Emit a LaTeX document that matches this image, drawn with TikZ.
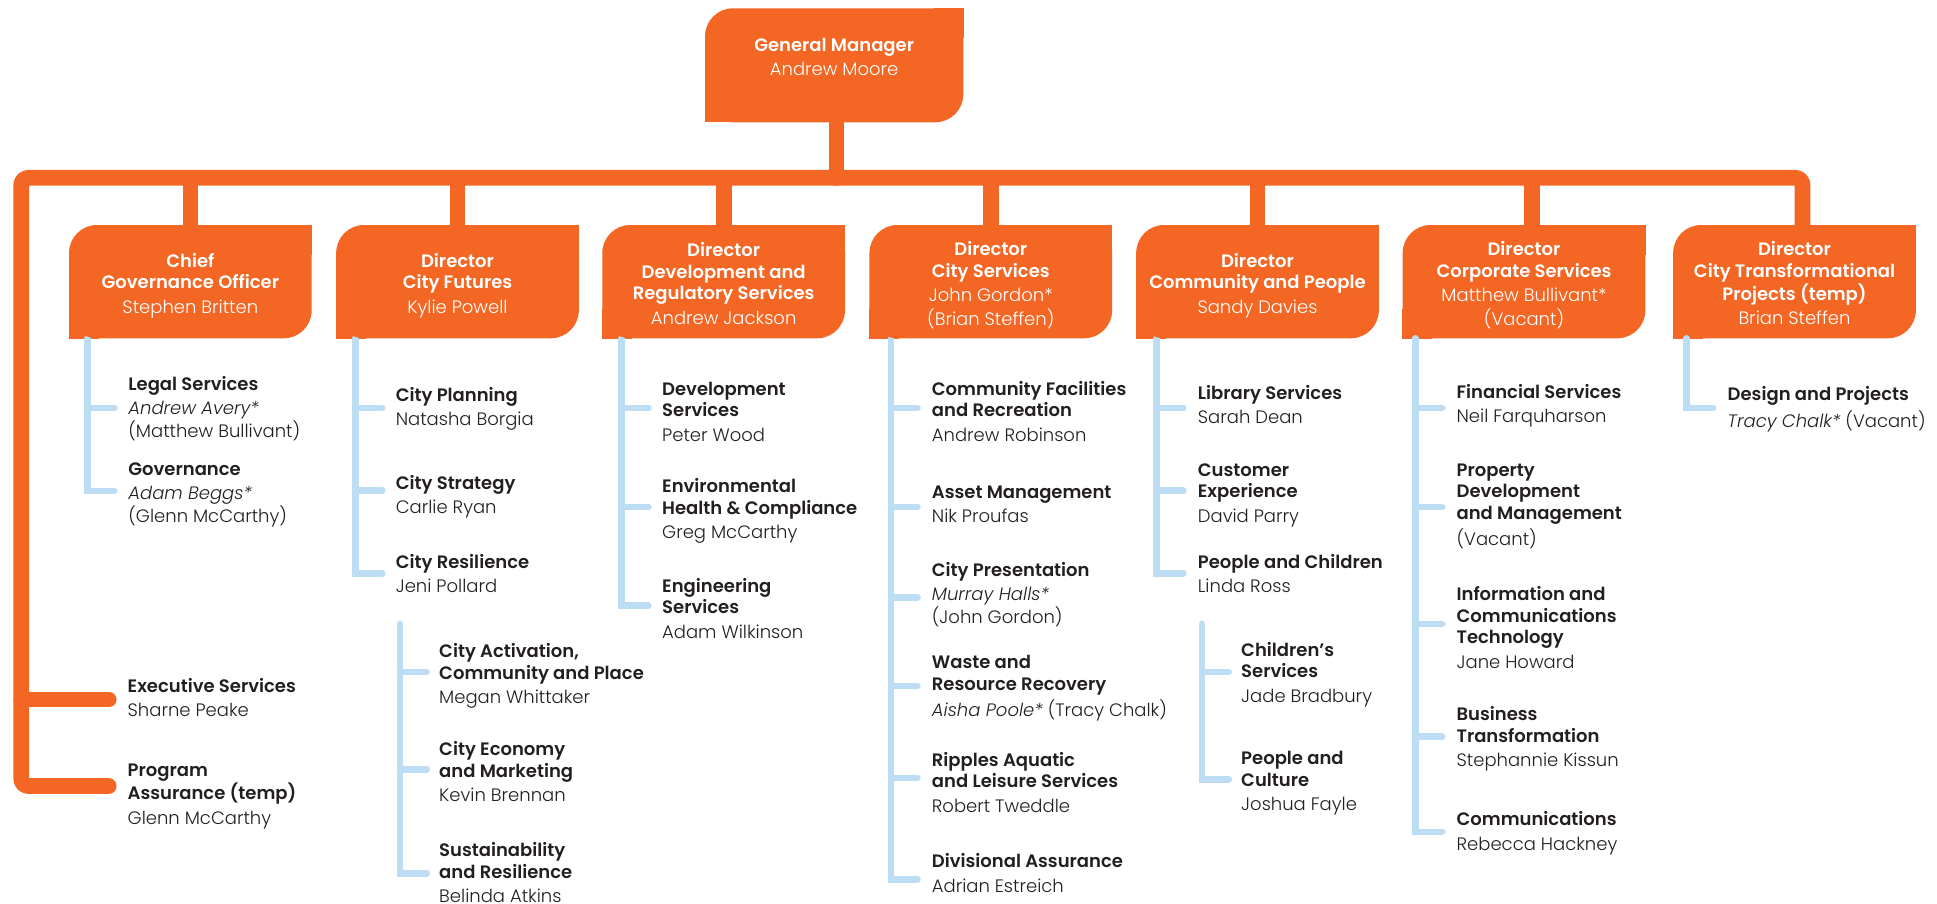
\documentclass[tikz,border=0pt]{standalone}
\usepackage{fontspec}
\setmainfont{Poppins}[BoldFont={Poppins SemiBold}]
\newfontfamily\lightf{Poppins Light}
\definecolor{orgc}{RGB}{243,102,35}
\definecolor{bluec}{RGB}{189,221,244}
\definecolor{txtc}{RGB}{35,31,32}
\pgfdeclarelayer{bg}
\pgfsetlayers{bg,main}
\tikzset{
  orgline/.style={draw=orgc, line width=15.7pt, line cap=round, line join=round},
  bluline/.style={draw=bluec, line width=6.5pt, line cap=round, line join=miter},
  topbox/.style={fill=orgc, rounded corners=28pt, inner sep=0pt, text=white,
    font=\fontsize{18}{21.5}\selectfont, minimum width=242.7pt, minimum height=113.3pt},
  item/.style={anchor=base west, inner sep=0pt, text=txtc,
    font=\fontsize{18}{21.5}\selectfont}
}
\newcommand{\bxt}[2]{\begin{tabular}{@{}c@{}}\rule{0pt}{#1}#2\end{tabular}}
\newcommand{\itm}[1]{\begin{tabular}[t]{@{}l@{}}#1\end{tabular}}
\newcommand{\orgcorners}[1]{%
  \fill[orgc] (#1.south west) rectangle ([xshift=30pt,yshift=30pt]#1.south west);
  \fill[orgc] (#1.north east) rectangle ([xshift=-30pt,yshift=-30pt]#1.north east);}
\begin{document}
\begin{tikzpicture}[x=1pt,y=-1pt]
\useasboundingbox (0,0) rectangle (1937,904);
% ---------- boxes ----------
\node[topbox, minimum width=258.3pt, minimum height=114pt] (gm) at (834.15,65.3)
  {\bxt{15pt}{\bfseries General Manager\\[3pt]\lightf Andrew Moore\rule[-18.25pt]{0pt}{18.25pt}}};
\node[topbox] (d1) at (190.35,281.65) {\bxt{23.9pt}{\bfseries Chief\\\bfseries Governance Officer\\[3pt]\lightf Stephen Britten}};
\node[topbox] (d2) at (457.5,281.65) {\bxt{23.9pt}{\bfseries Director\\\bfseries City Futures\\[3pt]\lightf Kylie Powell}};
\node[topbox] (d3) at (723.65,281.65) {\bxt{23.9pt}{\bfseries Director\\\bfseries Development and\\\bfseries Regulatory Services\\[3pt]\lightf Andrew Jackson}};
\node[topbox] (d4) at (990.8,281.65) {\bxt{23.9pt}{\bfseries Director\\\bfseries City Services\\[3pt]\lightf John Gordon*\\\lightf (Brian Steffen)}};
\node[topbox] (d5) at (1257.5,281.65) {\bxt{23.9pt}{\bfseries Director\\\bfseries Community and People\\[3pt]\lightf Sandy Davies}};
\node[topbox] (d6) at (1524,281.65) {\bxt{23.9pt}{\bfseries Director\\\bfseries Corporate Services\\[3pt]\lightf Matthew Bullivant*\\\lightf (Vacant)}};
\node[topbox] (d7) at (1794.5,281.65) {\bxt{23.9pt}{\bfseries Director\\\bfseries City Transformational\\\bfseries Projects (temp)\\[3pt]\lightf Brian Steffen}};
% ---------- items ----------
\node[item] (ls) at (128.2,390) {\itm{\bfseries Legal Services\\[3pt]\lightf\itshape Andrew Avery*\\\lightf (Matthew Bullivant)}};
\node[item] (gov) at (128.2,475) {\itm{\bfseries Governance\\[3pt]\lightf\itshape Adam Beggs*\\\lightf (Glenn McCarthy)}};
\node[item] (es) at (127.5,692.4) {\itm{\bfseries Executive Services\\[3pt]\lightf Sharne Peake}};
\node[item] (pa) at (127.5,776.5) {\itm{\bfseries Program\\\bfseries Assurance (temp)\\[3pt]\lightf Glenn McCarthy}};
\node[item] (cp) at (395.6,401) {\itm{\bfseries City Planning\\[3pt]\lightf Natasha Borgia}};
\node[item] (cs) at (395.6,489) {\itm{\bfseries City Strategy\\[3pt]\lightf Carlie Ryan}};
\node[item] (cr) at (395.6,568) {\itm{\bfseries City Resilience\\[3pt]\lightf Jeni Pollard}};
\node[item] (ca) at (439,657.5) {\itm{\bfseries City Activation,\\\bfseries Community and Place\\[3pt]\lightf Megan Whittaker}};
\node[item] (ce) at (439,755.5) {\itm{\bfseries City Economy\\\bfseries and Marketing\\[3pt]\lightf Kevin Brennan}};
\node[item] (sr) at (439,856.5) {\itm{\bfseries Sustainability\\\bfseries and Resilience\\[3pt]\lightf Belinda Atkins}};
\node[item] (ds) at (662,395.3) {\itm{\bfseries Development\\\bfseries Services\\[3pt]\lightf Peter Wood}};
\node[item] (eh) at (662,492.5) {\itm{\bfseries Environmental\\\bfseries Health \& Compliance\\[3pt]\lightf Greg McCarthy}};
\node[item] (en) at (662,592) {\itm{\bfseries Engineering\\\bfseries Services\\[3pt]\lightf Adam Wilkinson}};
\node[item] (cf) at (931.7,395.3) {\itm{\bfseries Community Facilities\\\bfseries and Recreation\\[3pt]\lightf Andrew Robinson}};
\node[item] (am) at (931.7,498.3) {\itm{\bfseries Asset Management\\[3pt]\lightf Nik Proufas}};
\node[item] (cpn) at (931.7,576.2) {\itm{\bfseries City Presentation\\[3pt]\lightf\itshape Murray Halls*\\\lightf (John Gordon)}};
\node[item] (wr) at (931.7,668.5) {\itm{\bfseries Waste and\\\bfseries Resource Recovery\\[3pt]\lightf{\itshape Aisha Poole*} (Tracy Chalk)}};
\node[item] (rp) at (931.7,766) {\itm{\bfseries Ripples Aquatic\\\bfseries and Leisure Services\\[3pt]\lightf Robert Tweddle}};
\node[item] (da) at (931.7,867.7) {\itm{\bfseries Divisional Assurance\\[3pt]\lightf Adrian Estreich}};
\node[item] (lib) at (1197.7,399) {\itm{\bfseries Library Services\\[3pt]\lightf Sarah Dean}};
\node[item] (cx) at (1197.7,476.2) {\itm{\bfseries Customer\\\bfseries Experience\\[3pt]\lightf David Parry}};
\node[item] (pch) at (1197.7,568) {\itm{\bfseries People and Children\\[3pt]\lightf Linda Ross}};
\node[item] (chs) at (1241,656.4) {\itm{\bfseries Children’s\\\bfseries Services\\[3pt]\lightf Jade Bradbury}};
\node[item] (pcu) at (1241,764.8) {\itm{\bfseries People and\\\bfseries Culture\\[3pt]\lightf Joshua Fayle}};
\node[item] (fs) at (1456.4,398.3) {\itm{\bfseries Financial Services\\[3pt]\lightf Neil Farquharson}};
\node[item] (pd) at (1456.4,476.2) {\itm{\bfseries Property\\\bfseries Development\\\bfseries and Management\\[3pt]\lightf (Vacant)}};
\node[item] (ict) at (1456.4,600.5) {\itm{\bfseries Information and\\\bfseries Communications\\\bfseries Technology\\[3pt]\lightf Jane Howard}};
\node[item] (bt) at (1456.4,720.7) {\itm{\bfseries Business\\\bfseries Transformation\\[3pt]\lightf Stephannie Kissun}};
\node[item] (com) at (1456.4,825.5) {\itm{\bfseries Communications\\[3pt]\lightf Rebecca Hackney}};
\node[item] (dp) at (1727.5,400.8) {\itm{\bfseries Design and Projects\\[3pt]\lightf{\itshape Tracy Chalk*} (Vacant)}};
% ---------- connectors ----------
\begin{pgfonlayer}{bg}
\fill[white] (0,0) rectangle (1937,904);
\foreach \n in {gm,d1,d2,d3,d4,d5,d6,d7} {\orgcorners{\n}}
\coordinate (bar) at (21.3,177.85);
\coordinate (esend) at (108.75,699.5);
\coordinate (paend) at (108.75,786);
\draw[orgline, rounded corners=7pt] (paend) -| (bar) -| ([xshift=8pt]d7.north);
\draw[orgline] (bar |- esend) -- (esend);
\draw[orgline] ([xshift=2.35pt]gm.south) -- ([xshift=2.35pt]gm.south |- bar);
\foreach \n in {d1,d2,d3,d4,d5} {\draw[orgline] (\n.north |- bar) -- (\n.north);}
\draw[orgline] ([xshift=8pt]d6.north |- bar) -- ([xshift=8pt]d6.north);
% blue: box 1
\coordinate (v1) at (87.7,338.3);
\coordinate (b1a) at (114.45,408); \coordinate (b1b) at (114.45,491);
\draw[bluline] (v1) |- (b1b); \draw[bluline] (v1 |- b1a) -- (b1a);
% box 2
\coordinate (v2) at (355.5,338.3);
\coordinate (b2a) at (382.25,408); \coordinate (b2b) at (382.25,490.7); \coordinate (b2c) at (382.25,573.4);
\draw[bluline] (v2) |- (b2c);
\foreach \b in {b2a,b2b} {\draw[bluline] (v2 |- \b) -- (\b);}
\coordinate (v2g) at (400,623.7);
\coordinate (b2d) at (426.75,672); \coordinate (b2e) at (426.75,769.3); \coordinate (b2f) at (426.75,873.4);
\draw[bluline] (v2g) |- (b2f);
\foreach \b in {b2d,b2e} {\draw[bluline] (v2g |- \b) -- (\b);}
% box 3
\coordinate (v3) at (621.7,338.3);
\coordinate (b3a) at (648.45,408); \coordinate (b3b) at (648.45,507); \coordinate (b3c) at (648.45,605.7);
\draw[bluline] (v3) |- (b3c);
\foreach \b in {b3a,b3b} {\draw[bluline] (v3 |- \b) -- (\b);}
% box 4
\coordinate (v4) at (890.8,338.3);
\coordinate (b4a) at (917.55,408); \coordinate (b4b) at (917.55,507); \coordinate (b4c) at (917.55,597.6);
\coordinate (b4d) at (917.55,685.9); \coordinate (b4e) at (917.55,777.8); \coordinate (b4f) at (917.55,879.6);
\draw[bluline] (v4) |- (b4f);
\foreach \b in {b4a,b4b,b4c,b4d,b4e} {\draw[bluline] (v4 |- \b) -- (\b);}
% box 5
\coordinate (v5) at (1156.7,338.3);
\coordinate (b5a) at (1183.45,408); \coordinate (b5b) at (1183.45,490.7); \coordinate (b5c) at (1183.45,573.4);
\draw[bluline] (v5) |- (b5c);
\foreach \b in {b5a,b5b} {\draw[bluline] (v5 |- \b) -- (\b);}
\coordinate (v5g) at (1202,623.7);
\coordinate (b5d) at (1228.75,672); \coordinate (b5e) at (1228.75,779.3);
\draw[bluline] (v5g) |- (b5e);
\draw[bluline] (v5g |- b5d) -- (b5d);
% box 6
\coordinate (v6) at (1415.5,338.3);
\coordinate (b6a) at (1442.25,408); \coordinate (b6b) at (1442.25,507.2); \coordinate (b6c) at (1442.25,624);
\coordinate (b6d) at (1442.25,736.3); \coordinate (b6e) at (1442.25,831.8);
\draw[bluline] (v6) |- (b6e);
\foreach \b in {b6a,b6b,b6c,b6d} {\draw[bluline] (v6 |- \b) -- (\b);}
% box 7
\coordinate (v7) at (1686.3,338.3);
\coordinate (b7a) at (1713.05,408);
\draw[bluline] (v7) |- (b7a);
\end{pgfonlayer}
\end{tikzpicture}
\end{document}
